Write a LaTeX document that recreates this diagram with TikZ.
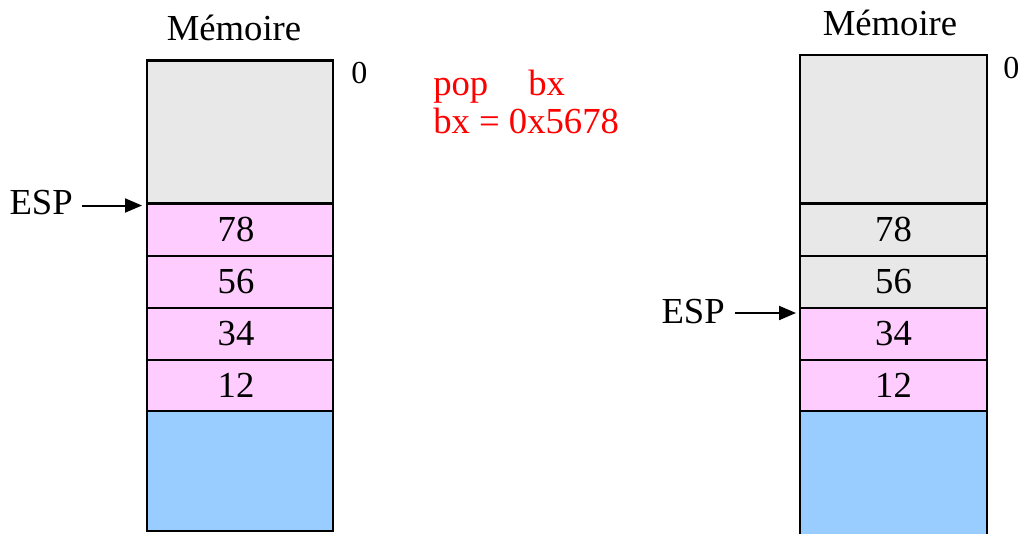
\documentclass[tikz,border=0pt]{standalone}
\usepackage{fontspec}
\setmainfont{Liberation Serif}
\usetikzlibrary{arrows.meta}
\definecolor{memgray}{HTML}{E8E8E8}
\definecolor{mempink}{HTML}{FFCCFF}
\definecolor{memblue}{HTML}{99CCFF}
\begin{document}
\begin{tikzpicture}[x=0.75pt,y=-0.75pt,
  txt/.style={font=\fontsize{27.5}{33}\selectfont, inner sep=0pt},
  small/.style={font=\fontsize{24}{28}\selectfont, inner sep=0pt},
  cell/.style={draw=black, line width=1.8pt, inner sep=0pt, minimum width={186*0.75pt},
     font=\fontsize{27.5}{33}\selectfont},
  ptr/.style={line width=1.5pt, -{Triangle[length=12.75pt,width=10.5pt]}},
  redtxt/.style={txt, text=red}]
\useasboundingbox (0,0) rectangle (1021,533);
% ---------- left column ----------
\node[txt, anchor=base] (memL) at (234,40) {Mémoire};
\node[cell, fill=memgray, minimum height={143*0.75pt}] (gL) at (240,132) {};
\node[cell, fill=mempink, minimum height={52*0.75pt}, text depth=0pt] (c1L) at (240,229.75) {\kern-6pt 78};
\node[cell, fill=mempink, minimum height={52*0.75pt}] (c2L) at (240,281.75) {\kern-6pt 56};
\node[cell, fill=mempink, minimum height={52*0.75pt}] (c3L) at (240,333.75) {\kern-6pt 34};
\node[cell, fill=mempink, minimum height={51*0.75pt}] (c4L) at (240,385.25) {\kern-6pt 12};
\node[cell, fill=memblue, minimum height={120*0.75pt}] (bL) at (240,471) {};
\node[small, anchor=base west] (zL) at (351,83) {0};
\node[txt, anchor=east] (espL) at (73,203) {ESP};
\coordinate (tipL) at (142,205.5);
\draw[ptr] (espL.east) ++(9,2.5) coordinate (sL) -- (tipL);
% ---------- red text ----------
\node[redtxt, anchor=base west] (pop) at (433,95) {pop};
\node[redtxt, anchor=base west] (bx1) at (528,95) {bx};
\node[redtxt, anchor=base west] (bx2) at (433,133) {bx = 0x5678};
% ---------- right column ----------
\node[txt, anchor=base] (memR) at (890,35) {Mémoire};
\node[cell, fill=memgray, minimum width={187*0.75pt}, minimum height={148.5*0.75pt}] (gR) at (893.5,129.25) {};
\node[cell, fill=memgray, minimum width={187*0.75pt}, minimum height={52*0.75pt}] (c1R) at (893.5,229.75) {78};
\node[cell, fill=memgray, minimum width={187*0.75pt}, minimum height={52*0.75pt}] (c2R) at (893.5,281.75) {56};
\node[cell, fill=mempink, minimum width={187*0.75pt}, minimum height={52*0.75pt}] (c3R) at (893.5,333.75) {34};
\node[cell, fill=mempink, minimum width={187*0.75pt}, minimum height={51*0.75pt}] (c4R) at (893.5,385.25) {12};
\node[cell, fill=memblue, minimum width={187*0.75pt}, minimum height={140*0.75pt}] (bR) at (893.5,481) {};
\node[small, anchor=base west] (zR) at (1003,78) {0};
\node[txt, anchor=east] (espR) at (725,312) {ESP};
\coordinate (tipR) at (796,313);
\draw[ptr] (espR.east) ++(10,1) coordinate (sR) -- (tipR);
\end{tikzpicture}
\end{document}
